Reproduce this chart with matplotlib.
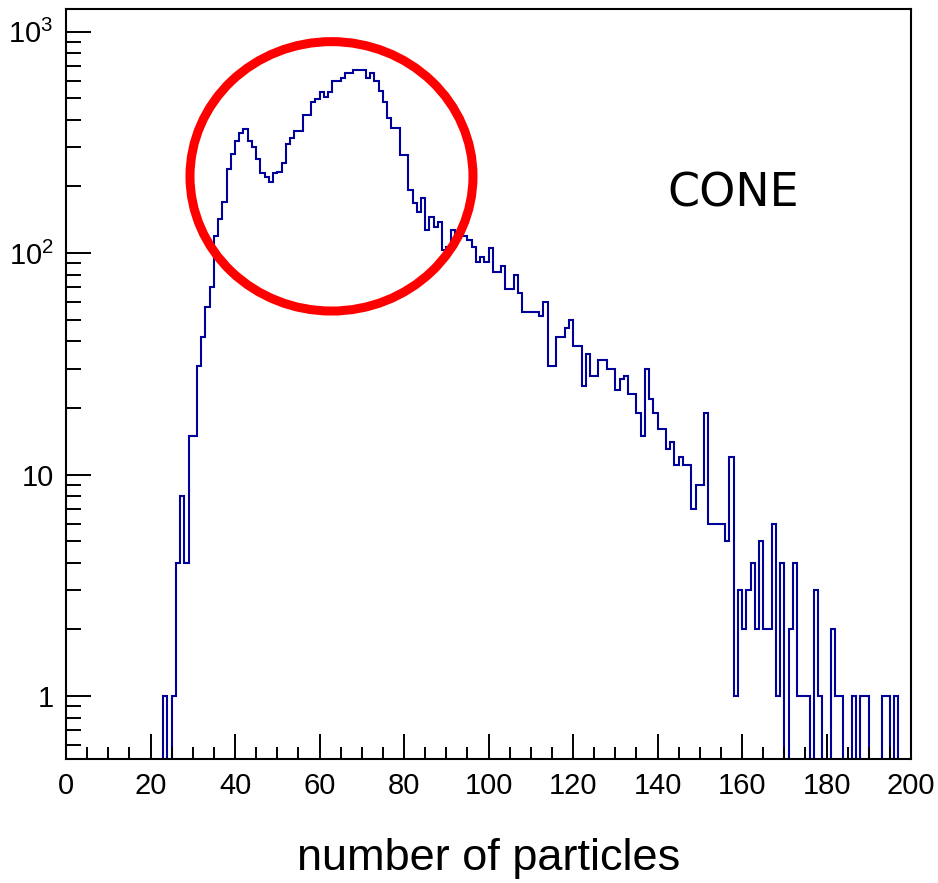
import numpy as np
import matplotlib
matplotlib.use("Agg")
import matplotlib.pyplot as plt
import matplotlib.ticker as mticker
from matplotlib.patches import Ellipse

# ------------------------------------------------------------------------------------------
print("***** data: one count per unit bin of 'number of particles', 0 -> 200")

bin_edges = np.arange(0, 201, 1)

counts = [
    0, 0, 0, 0, 0, 0, 0, 0, 0, 0,                        # 0-9
    0, 0, 0, 0, 0, 0, 0, 0, 0, 0,                        # 10-19
    0, 0, 0, 1, 0, 1, 4, 8, 4, 15,                       # 20-29
    15, 31, 42, 57, 70, 120, 142, 170, 240, 280,         # 30-39
    320, 350, 365, 320, 300, 265, 230, 220, 210, 229,    # 40-49
    233, 254, 310, 330, 357, 357, 420, 420, 482, 496,    # 50-59
    535, 508, 535, 598, 598, 615, 652, 652, 670, 670,    # 60-69
    670, 615, 652, 598, 539, 482, 408, 366, 366, 277,    # 70-79
    277, 192, 169, 154, 178, 127, 146, 131, 138, 103,    # 80-89
    107, 127, 118, 122, 120, 114, 107, 91, 96, 91,       # 90-99
    105, 82, 82, 87, 69, 69, 80, 66, 54, 54,             # 100-109
    54, 54, 52, 60, 31, 31, 42, 42, 46, 50,              # 110-119
    38, 38, 25, 35, 28, 28, 33, 33, 30, 30,              # 120-129
    24, 27, 28, 23, 23, 19, 15, 30, 22, 19,              # 130-139
    16, 16, 13, 14, 11, 12, 11, 11, 7, 9,                # 140-149
    9, 19, 6, 6, 6, 6, 5, 12, 1, 3,                     # 150-159
    2, 3, 4, 2, 5, 2, 2, 6, 1, 4,                        # 160-169
    0, 2, 4, 1, 1, 1, 0, 3, 1, 0,                        # 170-179
    0, 2, 1, 1, 0, 0, 1, 0, 1, 1,                        # 180-189
    0, 0, 0, 1, 1, 0, 1, 0, 0, 0,                        # 190-199
]

x_label = "number of particles"
annotation_text = "CONE"
y_tick_values = [1, 10, 100, 1000]
y_tick_labels = ["1", "10", r"$10^{2}$", r"$10^{3}$"]

# ------------------------------------------------------------------------------------------
print("***** configure matplotlib (ROOT-like look)")
plt.rcParams["font.family"] = ["Liberation Sans", "DejaVu Sans"]
plt.rcParams["mathtext.fontset"] = "custom"
plt.rcParams["mathtext.rm"] = "Liberation Sans"
plt.rcParams["mathtext.it"] = "Liberation Sans"
plt.rcParams["mathtext.bf"] = "Liberation Sans"
plt.rcParams["mathtext.default"] = "regular"

hist_color = "#00009a"

fig = plt.figure(figsize=(9.38, 8.83), dpi=100)
ax = fig.add_axes([0.0704, 0.1404, 0.9009, 0.8494])

# zero bins go below the frame (log scale), ROOT draws them on the bottom edge
counts_arr = np.array(counts, dtype=float)
counts_plot = np.where(counts_arr > 0, counts_arr, 1e-2)
ax.stairs(counts_plot, bin_edges, baseline=None, color=hist_color, linewidth=1.5)

ax.set_yscale("log")
ax.set_xlim(0, 200)
ax.set_ylim(0.52, 1264)

# ------------------------------------------------------------------------------------------
# ticks
ax.xaxis.set_major_locator(mticker.MultipleLocator(20))
ax.xaxis.set_minor_locator(mticker.MultipleLocator(5))
ax.yaxis.set_major_locator(mticker.FixedLocator(y_tick_values))
ax.yaxis.set_major_formatter(mticker.FixedFormatter(y_tick_labels))
ax.yaxis.set_minor_locator(mticker.LogLocator(base=10, subs=np.arange(2, 10), numticks=20))
ax.yaxis.set_minor_formatter(mticker.NullFormatter())

ax.tick_params(axis="both", which="both", direction="in", top=False, right=False,
               width=1.4, color="black", labelsize=21)
ax.tick_params(axis="x", which="major", length=18, pad=9)
ax.tick_params(axis="x", which="minor", length=8.5)
ax.tick_params(axis="y", which="major", length=18, pad=9)
ax.tick_params(axis="y", which="minor", length=10.5)

for crrt_spine in ax.spines.values():
    crrt_spine.set_linewidth(1.5)
    crrt_spine.set_color("black")

ax.set_xlabel(x_label, fontsize=32.5, labelpad=28)

# ------------------------------------------------------------------------------------------
# annotations drawn over the figure
fig.text(0.712, 0.7656, annotation_text, fontsize=33, family="DejaVu Sans",
         ha="left", va="baseline", color="black")

ring = Ellipse((0.3534, 0.8003), 0.3017, 0.3051, transform=fig.transFigure,
               fill=False, edgecolor="#ff0000", linewidth=6.5, clip_on=False)
fig.add_artist(ring)

fig.savefig("out.png", dpi=100)
